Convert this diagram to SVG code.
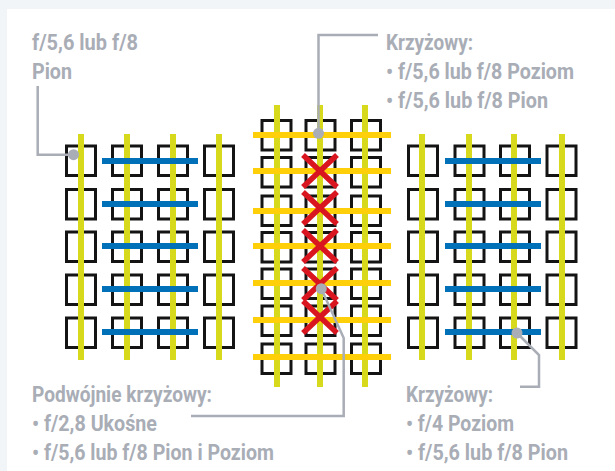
<svg xmlns="http://www.w3.org/2000/svg" xmlns:xlink="http://www.w3.org/1999/xlink" width="615" height="471" viewBox="0 0 615 471">
<style>
.sq{fill:none;stroke:#141414;stroke-width:3}
.y{stroke:#d7d91c;stroke-width:6;fill:none}
.b{stroke:#0070b8;stroke-width:6;fill:none}
.o{stroke:#ffd00a;stroke-width:6;fill:none}
.r{stroke:#d9161f;stroke-width:5.5;fill:none}
.c{stroke:#a9adb6;stroke-width:2.5;fill:none}
.d{fill:#a9adb6}
text{font-family:"Roboto","Liberation Sans",sans-serif;font-weight:700;font-size:22px;fill:#a9adb6}
</style>
<defs>
<rect id="s" class="sq" x="0" y="0" width="29" height="29.5"/>
<g id="rows">
<use href="#s" y="146"/><use href="#s" y="189.5"/><use href="#s" y="232"/><use href="#s" y="275"/><use href="#s" y="318"/>
</g>
<g id="rowsM">
<use href="#s" y="120.5"/><use href="#s" y="157.5"/><use href="#s" y="196"/><use href="#s" y="232.5"/><use href="#s" y="269"/><use href="#s" y="306"/><use href="#s" y="344"/>
</g>
<path id="x" class="r" d="M-17-16L17 16M17-16L-17 16"/>
</defs>
<rect width="615" height="471" fill="#f2f5f7"/>
<rect x="7" y="9" width="608" height="462" fill="#fff"/>
<g id="sensor-left">
<use href="#rows" x="66.5"/><use href="#rows" x="112.5"/><use href="#rows" x="158.5"/><use href="#rows" x="204.5"/>
<path class="y" d="M81 134V360M127 134V360M173 134V360M219 134V360"/>
<path class="b" d="M102 161H198M102 204H198M102 246H198M102 289H198M102 332H198"/>
</g>
<g id="sensor-middle">
<use href="#rowsM" x="262"/><use href="#rowsM" x="306"/><use href="#rowsM" x="351.5"/>
<path class="y" d="M277 105V387M320 105V387M365 105V387"/>
<path class="o" d="M253 135H391M253 171H391M253 211H391M253 246H391M253 283H391M253 320H391M253 357H391"/>
<use href="#x" x="320" y="171"/><use href="#x" x="320" y="208"/><use href="#x" x="320" y="246"/><use href="#x" x="320" y="284"/><use href="#x" x="320" y="317"/>
</g>
<g id="sensor-right">
<use href="#rows" x="408.5"/><use href="#rows" x="455"/><use href="#rows" x="500.5"/><use href="#rows" x="547"/>
<path class="y" d="M422 134V360M469 134V360M514 134V360M562 134V360"/>
<path class="b" d="M445 161H541M445 204H541M445 246H541M445 289H541M445 332H541"/>
</g>
<g id="connectors">
<path class="c" d="M37.7 86V154.7H73.5"/><circle class="d" cx="73.5" cy="154.7" r="5.5"/>
<path class="c" d="M378 35H318.5V133"/><circle class="d" cx="318.5" cy="133.3" r="5.5"/>
<path class="c" d="M321.3 288.7L343.7 338V416H191"/><circle class="d" cx="321.3" cy="288.7" r="5.5"/>
<path class="c" d="M517 333L539 355V386.7H520"/><circle class="d" cx="517" cy="333" r="5.5"/>
</g>
<g id="label-top-left">
<text x="32" y="50" textLength="106" lengthAdjust="spacingAndGlyphs">f/5,6 lub f/8</text>
<text x="32" y="79" textLength="40" lengthAdjust="spacingAndGlyphs">Pion</text>
</g>
<g id="label-top-right">
<text x="386" y="50" textLength="87" lengthAdjust="spacingAndGlyphs">Krzyżowy:</text>
<text x="386" y="79" textLength="188" lengthAdjust="spacingAndGlyphs">• f/5,6 lub f/8 Poziom</text>
<text x="386" y="108" textLength="162" lengthAdjust="spacingAndGlyphs">• f/5,6 lub f/8 Pion</text>
</g>
<g id="label-bottom-left">
<text x="32" y="402" textLength="180" lengthAdjust="spacingAndGlyphs">Podwójnie krzyżowy:</text>
<text x="32" y="431" textLength="125" lengthAdjust="spacingAndGlyphs">• f/2,8 Ukośne</text>
<text x="32" y="460" textLength="242" lengthAdjust="spacingAndGlyphs">• f/5,6 lub f/8 Pion i Poziom</text>
</g>
<g id="label-bottom-right">
<text x="406" y="402" textLength="87" lengthAdjust="spacingAndGlyphs">Krzyżowy:</text>
<text x="406" y="431" textLength="108" lengthAdjust="spacingAndGlyphs">• f/4 Poziom</text>
<text x="406" y="460" textLength="162" lengthAdjust="spacingAndGlyphs">• f/5,6 lub f/8 Pion</text>
</g>
</svg>
